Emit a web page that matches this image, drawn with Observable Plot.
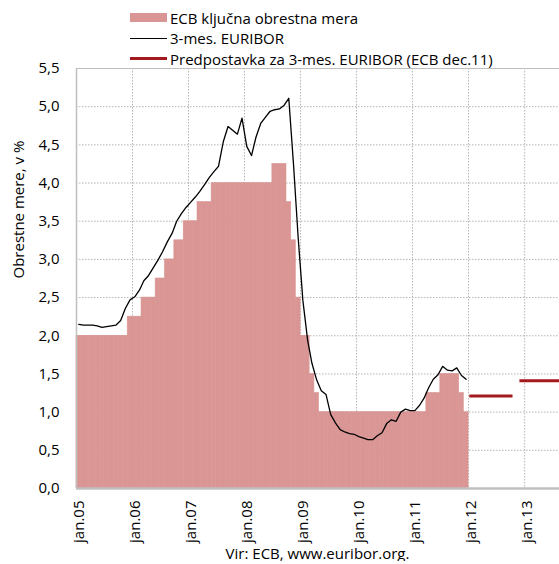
<!DOCTYPE html>
<html>
<head>
<meta charset="utf-8">
<script src="https://cdn.jsdelivr.net/npm/d3@7"></script>
<script src="https://cdn.jsdelivr.net/npm/@observablehq/plot@0.6"></script>
<style>
  html, body { margin: 0; padding: 0; background: #fff; }
  body { font-family: "Open Sans", "Noto Sans", sans-serif; color: #000; width: 559px; overflow: hidden; }
  #legend { height: 62px; box-sizing: border-box; padding-top: 7.5px; padding-left: 130px; font-size: 15px; position: relative; z-index: 1; }
  #legend .row { height: 20.6px; display: flex; align-items: center; white-space: nowrap; }
  #legend .sw { display: inline-block; width: 37px; margin-right: 3px; }
  #chart svg { display: block; }
  #caption { padding-left: 76px; width: 483px; text-align: center; font-size: 15px; line-height: 15px; }
</style>
</head>
<body>
<div id="legend"></div>
<div id="chart"></div>
<div id="caption">Vir: ECB, www.euribor.org.</div>
<script>
// ---- data ----
const firstMonth = "2005-01-01";
// ECB key (main refinancing) rate, monthly, Jan 2005 – Dec 2011
const ecbRate = [
  2.00, 2.00, 2.00, 2.00, 2.00, 2.00, 2.00, 2.00, 2.00, 2.00, 2.00, 2.25,
  2.25, 2.25, 2.50, 2.50, 2.50, 2.75, 2.75, 3.00, 3.00, 3.25, 3.25, 3.50,
  3.50, 3.50, 3.75, 3.75, 3.75, 4.00, 4.00, 4.00, 4.00, 4.00, 4.00, 4.00,
  4.00, 4.00, 4.00, 4.00, 4.00, 4.00, 4.25, 4.25, 4.25, 3.75, 3.25, 2.50,
  2.00, 2.00, 1.50, 1.25, 1.00, 1.00, 1.00, 1.00, 1.00, 1.00, 1.00, 1.00,
  1.00, 1.00, 1.00, 1.00, 1.00, 1.00, 1.00, 1.00, 1.00, 1.00, 1.00, 1.00,
  1.00, 1.00, 1.00, 1.25, 1.25, 1.25, 1.50, 1.50, 1.50, 1.50, 1.25, 1.00
];
// 3-month EURIBOR, monthly averages, Jan 2005 – Dec 2011
const euribor3m = [
  2.15, 2.14, 2.14, 2.14, 2.13, 2.11, 2.12, 2.13, 2.14, 2.20, 2.36, 2.47,
  2.51, 2.60, 2.72, 2.79, 2.89, 2.99, 3.10, 3.23, 3.34, 3.50, 3.60, 3.68,
  3.75, 3.82, 3.89, 3.98, 4.07, 4.15, 4.22, 4.54, 4.74, 4.69, 4.64, 4.85,
  4.48, 4.36, 4.60, 4.78, 4.86, 4.94, 4.96, 4.97, 5.02, 5.11, 4.24, 3.29,
  2.46, 1.94, 1.64, 1.42, 1.28, 1.23, 0.97, 0.86, 0.77, 0.74, 0.72, 0.71,
  0.68, 0.66, 0.64, 0.64, 0.69, 0.73, 0.85, 0.90, 0.88, 1.00, 1.04, 1.02,
  1.02, 1.09, 1.18, 1.32, 1.43, 1.49, 1.60, 1.55, 1.54, 1.58, 1.48, 1.43
];
// Assumption for 3-month EURIBOR (ECB, Dec 2011)
const assumptionStart = ["2012-01-09", "2012-12-01"];
const assumptionEnd   = ["2012-10-17", "2013-12-31"];
const assumptionValue = [1.21, 1.41];

const yTicks = [0, 0.5, 1, 1.5, 2, 2.5, 3, 3.5, 4, 4.5, 5, 5.5];
const xTickYears = [2005, 2006, 2007, 2008, 2009, 2010, 2011, 2012, 2013];
const xDomain = ["2005-01-01", "2013-08-16"];

const legendItems = [
  {label: "ECB ključna obrestna mera", color: "#d99694", h: 9},
  {label: "3-mes. EURIBOR", color: "#000000", h: 1.3},
  {label: "Predpostavka za 3-mes. EURIBOR (ECB dec.11)", color: "#a31a1e", h: 3}
];
const yLabel = "Obrestne mere, v %";

// ---- build tables ----
const start = new Date(firstMonth);
const bars = ecbRate.map((v, i) => ({
  start: d3.utcMonth.offset(start, i),
  end: d3.utcMonth.offset(start, i + 1),
  value: v
}));
const eurLine = euribor3m.map((v, i) => ({
  date: d3.utcDay.offset(d3.utcMonth.offset(start, i), 15),
  value: v
}));
const assumption = assumptionValue.map((v, i) => ({
  start: new Date(assumptionStart[i]), end: new Date(assumptionEnd[i]), value: v
}));
const xTicks = xTickYears.map(y => new Date(Date.UTC(y, 0, 1)));

// ---- legend ----
const leg = document.getElementById("legend");
for (const it of legendItems) {
  const row = document.createElement("div");
  row.className = "row";
  const sw = document.createElement("span");
  sw.className = "sw";
  sw.style.height = it.h + "px";
  sw.style.background = it.color;
  row.appendChild(sw);
  row.appendChild(document.createTextNode(it.label));
  leg.appendChild(row);
}

const gridColor = "#b4b4b4";
const frameColor = "#bfbfbf";
const barColor = "#d99694";

const chart = Plot.plot({
  width: 559,
  height: 484,
  marginLeft: 76,
  marginRight: 0,
  marginTop: 6,
  marginBottom: 58,
  style: {fontFamily: "'Open Sans', 'Noto Sans', sans-serif", fontSize: "15px", color: "#000", background: "transparent", overflow: "visible"},
  x: {type: "utc", domain: xDomain.map(d => new Date(d))},
  y: {domain: [0, 5.5]},
  marks: [
    Plot.gridY(yTicks.filter(d => d > 0 && d < 5.5), {stroke: gridColor, strokeOpacity: 1, strokeDasharray: "1.5,1.5"}),
    Plot.gridX(xTicks.slice(1), {stroke: gridColor, strokeOpacity: 1, strokeDasharray: "1.5,1.5"}),
    Plot.rectY(bars, {x1: "start", x2: "end", y: "value", fill: barColor, stroke: barColor, strokeWidth: 0.6, inset: 0}),
    Plot.ruleY([5.5], {stroke: frameColor, strokeWidth: 1.2}),
    Plot.ruleX([xTicks[0]], {stroke: frameColor, strokeWidth: 1.5}),
    Plot.ruleY([0], {stroke: frameColor, strokeWidth: 2.5}),
    Plot.line(eurLine, {x: "date", y: "value", stroke: "#000", strokeWidth: 1.3}),
    Plot.ruleY(assumption, {x1: "start", x2: "end", y: "value", stroke: "#a31a1e", strokeWidth: 3, clip: true}),
    Plot.axisY({ticks: yTicks, tickFormat: d => d.toFixed(1).replace(".", ","), tickSize: 0, tickPadding: 17, label: null, fontSize: 15}),
    Plot.axisX({ticks: xTicks, tickFormat: d => "jan." + String(d.getUTCFullYear()).slice(2), tickRotate: -90, tickSize: 0, tickPadding: 12, label: null, dx: 3, fontSize: 15}),
    Plot.text([yLabel], {text: d => d, frameAnchor: "left", dx: -57.5, rotate: -90, fontSize: 15})
  ]
});
document.getElementById("chart").appendChild(chart);
</script>
</body>
</html>
